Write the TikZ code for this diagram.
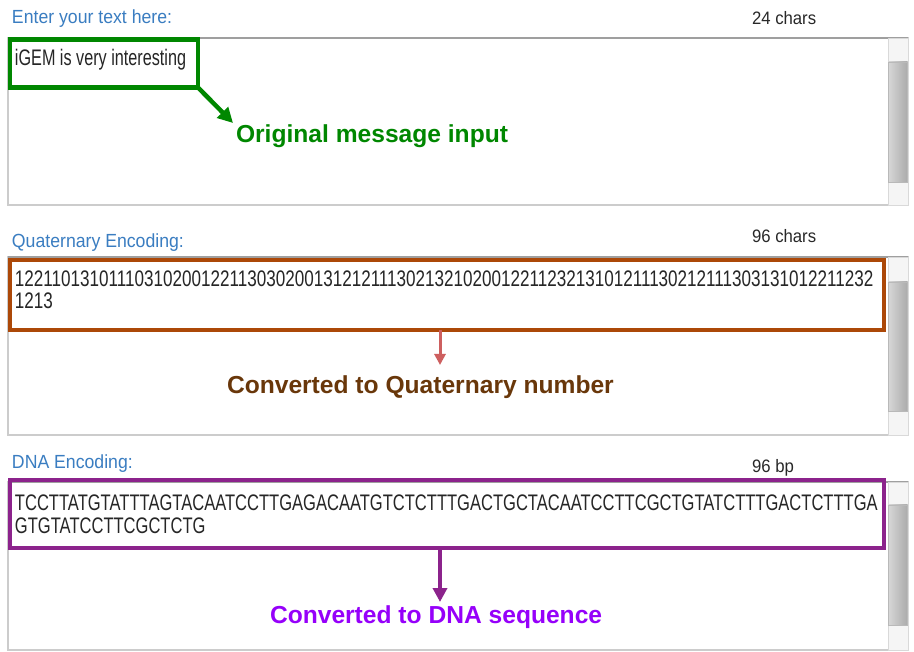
\documentclass[tikz,border=0pt]{standalone}
\usepackage{fontspec}
\setmainfont{Liberation Sans}
\newfontfamily\areafont[FakeStretch=0.735]{Liberation Sans}
\newfontfamily\inputfont[FakeStretch=0.72]{Liberation Sans}
\newfontfamily\digitfont[FakeStretch=0.759]{Liberation Sans}
\newfontfamily\labfont[FakeStretch=0.93]{Liberation Sans}
\usetikzlibrary{arrows.meta}
\definecolor{lblue}{RGB}{58,125,193}
\definecolor{cnt}{RGB}{40,40,40}
\definecolor{gbx}{RGB}{0,135,0}
\definecolor{bbx}{RGB}{172,72,8}
\definecolor{btx}{RGB}{105,55,10}
\definecolor{bar}{RGB}{205,95,95}
\definecolor{pbx}{RGB}{140,35,140}
\definecolor{ptx}{RGB}{150,0,250}
\tikzset{
  fieldlabel/.style={anchor=base west, inner sep=0pt, outer sep=0pt, text=lblue, font=\labfont\fontsize{19}{19}\selectfont},
  countlabel/.style={anchor=base west, inner sep=0pt, outer sep=0pt, text=cnt, font=\labfont\fontsize{18}{18}\selectfont},
  areatext/.style={anchor=base west, inner sep=0pt, outer sep=0pt, text=black!85, font=\areafont\fontsize{22.5}{22.5}\selectfont},
  inputtext/.style={anchor=base west, inner sep=0pt, outer sep=0pt, text=black!85, font=\inputfont\fontsize{22.5}{22.5}\selectfont},
  digittext/.style={anchor=base west, inner sep=0pt, outer sep=0pt, text=black!85, font=\digitfont\fontsize{22.5}{22.5}\selectfont},
  note/.style={anchor=base west, inner sep=0pt, outer sep=0pt, font=\bfseries\fontsize{24.6}{24.6}\selectfont},
  hlbox/.style={draw, line width=4.5pt, anchor=north west, inner sep=0pt, outer sep=0pt},
  areaborder/.style={draw=gray!40, line width=1.2pt, fill=white},
  areatop/.style={draw=gray!75, line width=1.5pt},
  trackbtn/.style={fill=gray!8, draw=gray!30, line width=0.8pt},
  thumb/.style={left color=gray!32, right color=gray!66, draw=gray!55, line width=0.5pt},
}
\newcommand\mypanel[4]{%
  \path[areaborder] (8,#1) rectangle (908,#2);
  \draw[areatop] (8,#1) -- (908,#1);
  \path[trackbtn] (888,#1) rectangle (908,#2);
  \shade[thumb] (888.5,#3) rectangle (907.5,#4);
}
\begin{document}
\begin{tikzpicture}[x=1pt,y=-1pt]
\useasboundingbox[fill=white] (0,0) rectangle (914,652);

% panels
\mypanel{38}{205}{62}{182}
\mypanel{257}{435}{282}{411}
\mypanel{482}{650}{505}{625}

% labels
\node[fieldlabel] (l1) at (12,24) {Enter your text here:};
\node[countlabel] (c1) at (752,25) {24 chars};
\node[fieldlabel] (l2) at (12,248) {Quaternary Encoding:};
\node[countlabel] (c2) at (752,243) {96 chars};
\node[fieldlabel] (l3) at (12,468) {DNA Encoding:};
\node[countlabel] (c3) at (752,473) {96 bp};

% highlight boxes
\node[hlbox, draw=gbx, minimum width=188pt, minimum height=48pt] (gbox) at (10,39.5) {};
\node[hlbox, draw=bbx, minimum width=874pt, minimum height=70pt] (bbox) at (10,260) {};
\node[hlbox, draw=pbx, minimum width=874pt, minimum height=68pt] (pbox) at (10,480) {};

% contents
\node[inputtext] (t1) at (15,66) {iGEM is very interesting};
\node[digittext] (q1) at (15,287) {12211013101110310200122113030200131212111302132102001221123213101211130212111303131012211232};
\node[digittext] (q2) at (15,309) {1213};
\node[areatext] (d1) at (15,511) {TCCTTATGTATTTAGTACAATCCTTGAGACAATGTCTCTTTGACTGCTACAATCCTTCGCTGTATCTTTGACTCTTTGA};
\node[areatext] (d2) at (15,533) {GTGTATCCTTCGCTCTG};

% notes
\node[note, text=gbx] (gnote) at (236,143) {Original message input};
\node[note, text=btx] (bnote) at (227,394) {Converted to Quaternary number};
\node[note, text=ptx] (pnote) at (270,623) {Converted to DNA sequence};

% arrows
\coordinate (gtip) at (233,123);
\coordinate (qtip) at (440,365);
\coordinate (dtip) at (440,602);
\draw[gbx, line width=4.5pt, -{Triangle[length=15pt,width=15pt]}] (gbox.south east) -- (gtip);
\draw[bar, line width=3pt, -{Triangle[length=11pt,width=11pt]}] (bbox.south -| qtip) -- (qtip);
\draw[pbx, line width=4pt, -{Triangle[length=14pt,width=14pt]}] (pbox.south -| dtip) -- (dtip);
\end{tikzpicture}
\end{document}
